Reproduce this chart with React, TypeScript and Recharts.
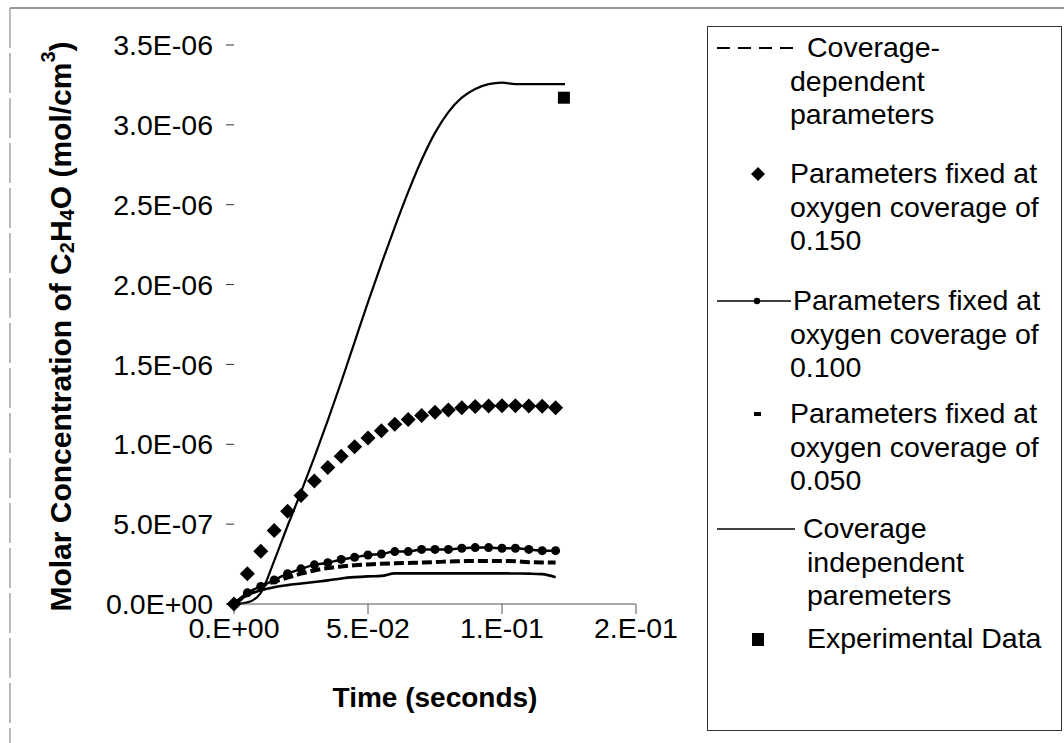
import { ComposedChart, Line, Scatter, XAxis, YAxis, Legend } from "recharts";

const FONT = "'Liberation Sans', Arial, sans-serif";

// time grid (seconds)
const TIME = [
  0, 0.005, 0.01, 0.015, 0.02, 0.025, 0.03, 0.035, 0.04, 0.045, 0.05, 0.055, 0.06,
  0.065, 0.07, 0.075, 0.08, 0.085, 0.09, 0.095, 0.1, 0.105, 0.11, 0.115, 0.12,
];

// concentrations in 1E-06 mol/cm3
const COVERAGE_DEPENDENT = [
  0, 0.06, 0.11, 0.14, 0.165, 0.19, 0.21, 0.225, 0.235, 0.243, 0.248, 0.252, 0.255,
  0.257, 0.259, 0.262, 0.266, 0.268, 0.27, 0.27, 0.27, 0.268, 0.262, 0.26, 0.26,
];
const FIXED_0150 = [
  0, 0.19, 0.33, 0.46, 0.58, 0.68, 0.77, 0.855, 0.925, 0.985, 1.04, 1.085, 1.125,
  1.155, 1.18, 1.2, 1.215, 1.228, 1.236, 1.24, 1.242, 1.242, 1.24, 1.238, 1.228,
];
const FIXED_0100 = [
  0, 0.07, 0.11, 0.15, 0.19, 0.22, 0.245, 0.258, 0.279, 0.292, 0.307, 0.313, 0.328,
  0.328, 0.342, 0.342, 0.342, 0.349, 0.353, 0.353, 0.349, 0.349, 0.342, 0.334, 0.334,
];
const FIXED_0050 = [
  0, 0.055, 0.085, 0.105, 0.118, 0.128, 0.138, 0.148, 0.16, 0.168, 0.173, 0.176, 0.192,
  0.192, 0.192, 0.192, 0.192, 0.192, 0.192, 0.192, 0.192, 0.191, 0.19, 0.187, 0.168,
];
const INDEPENDENT = [
  0, 0.01, 0.07, 0.27, 0.49, 0.7, 0.92, 1.15, 1.39, 1.64, 1.89, 2.13, 2.36,
  2.58, 2.78, 2.95, 3.08, 3.17, 3.225, 3.255, 3.265, 3.255, 3.255, 3.255, 3.255,
];
const INDEPENDENT_TAIL_T = [0.1235];
const INDEPENDENT_TAIL_C = [3.255];

const EXPERIMENTAL_T = [0.1231];
const EXPERIMENTAL_C = [3.17];

const X_TICKS = [0, 0.05, 0.1, 0.15];
const X_TICK_LABELS = ["0.E+00", "5.E-02", "1.E-01", "2.E-01"];
const Y_TICKS = [0, 0.5e-6, 1e-6, 1.5e-6, 2e-6, 2.5e-6, 3e-6, 3.5e-6];

const LEGEND_GROUPS = [
  { lines: ["Coverage-", "dependent", "parameters"], symbol: "dashed" },
  { lines: ["Parameters fixed at", "oxygen coverage of", "0.150"], symbol: "diamond" },
  { lines: ["Parameters fixed at", "oxygen coverage of", "0.100"], symbol: "linedot" },
  { lines: ["Parameters fixed at", "oxygen coverage of", "0.050"], symbol: "dash" },
  { lines: ["Coverage", "independent", "paremeters"], symbol: "line" },
  { lines: ["Experimental Data"], symbol: "square" },
];

const toSeries = (ts: number[], cs: number[]) => ts.map((t, i) => ({ t, c: cs[i] * 1e-6 }));

const covDep = toSeries(TIME, COVERAGE_DEPENDENT);
const fixed150 = toSeries(TIME, FIXED_0150);
const fixed100 = toSeries(TIME, FIXED_0100);
const fixed050 = toSeries(TIME, FIXED_0050);
const indep = [...toSeries(TIME, INDEPENDENT), ...toSeries(INDEPENDENT_TAIL_T, INDEPENDENT_TAIL_C)];
const experimental = toSeries(EXPERIMENTAL_T, EXPERIMENTAL_C);

const fmtY = (v: number) => {
  const [m, e] = v.toExponential(1).split("e");
  const n = Number(e);
  return `${m}E${n < 0 ? "-" : "+"}${String(Math.abs(n)).padStart(2, "0")}`;
};

const Diamond = (p: any) => {
  const { cx, cy } = p;
  const r = 7.5;
  return <polygon points={`${cx},${cy - r} ${cx + r},${cy} ${cx},${cy + r} ${cx - r},${cy}`} fill="#000" />;
};

const Square = (p: any) => <rect x={p.cx - 6} y={p.cy - 6} width={12} height={12} fill="#000" />;

const renderYTitle = (props: any) => {
  const { x, y, height } = props.viewBox;
  const cx = x + 60;
  const cy = y + height / 2 + 2;
  return (
    <text
      x={cx}
      y={cy}
      transform={`rotate(-90 ${cx} ${cy})`}
      textAnchor="middle"
      dominantBaseline="central"
      fontFamily={FONT}
      fontWeight="bold"
      fontSize={30}
      fill="#000"
    >
      Molar Concentration of C<tspan fontSize={20} dy={7}>2</tspan>
      <tspan dy={-7}>H</tspan>
      <tspan fontSize={20} dy={7}>4</tspan>
      <tspan dy={-7}>O (mol/cm</tspan>
      <tspan fontSize={20} dy={-12}>3</tspan>
      <tspan dy={12}>)</tspan>
    </text>
  );
};

// legend box position on the page
const LX = 707;
const LY = 26;
const GROUP_Y = [47, 173, 300, 413, 528, 638];
const FIRST_X = [807, 790, 793, 790, 803, 807];
const REST_X = [790, 790, 790, 790, 807, 807];
const LINE_H = 33.5;

function LegendBox() {
  const sym = (s: string, y: number) => {
    const sy = y - LY + 1;
    switch (s) {
      case "dashed":
        return <line x1={10} x2={88} y1={sy} y2={sy} stroke="#000" strokeWidth={2.2} strokeDasharray="13 8" />;
      case "diamond":
        return <polygon points={`51,${sy - 7} 58,${sy} 51,${sy + 7} 44,${sy}`} fill="#000" />;
      case "linedot":
        return (
          <g>
            <line x1={10} x2={84} y1={sy} y2={sy} stroke="#000" strokeWidth={1.6} />
            <circle cx={50} cy={sy} r={3.2} fill="#000" />
          </g>
        );
      case "dash":
        return <rect x={47} y={sy - 2} width={7} height={4} fill="#000" />;
      case "line":
        return <line x1={10} x2={88} y1={sy} y2={sy} stroke="#000" strokeWidth={1.6} />;
      default:
        return <rect x={45} y={sy - 6} width={12} height={13} fill="#000" />;
    }
  };
  return (
    <svg width={357} height={706} style={{ display: "block" }}>
      <rect x={0.5} y={0.5} width={354} height={704} fill="#fff" stroke="#333" strokeWidth={1} />
      {LEGEND_GROUPS.map((g, gi) => (
        <g key={gi}>
          {sym(g.symbol, GROUP_Y[gi])}
          {g.lines.map((txt, li) => (
            <text
              key={li}
              x={(li === 0 ? FIRST_X[gi] : REST_X[gi]) - LX}
              y={GROUP_Y[gi] + li * LINE_H - LY}
              dominantBaseline="central"
              fontFamily={FONT}
              fontSize={28.5}
              fill="#000"
            >
              {txt}
            </text>
          ))}
        </g>
      ))}
    </svg>
  );
}

export default function App() {
  return (
    <div style={{ position: "relative", width: 1064, height: 743, background: "#fff" }}>
      <style>{"body{margin:0}"}</style>
      <svg width={1064} height={743} style={{ position: "absolute", left: 0, top: 0 }}>
        <line x1={10} x2={1064} y1={8} y2={8} stroke="#333" strokeWidth={1.2} />
        <line x1={10} x2={10} y1={8} y2={743} stroke="#777" strokeWidth={1} strokeDasharray="40 5" />
      </svg>
      <div style={{ position: "absolute", left: 0, top: 0 }}>
        <ComposedChart width={1064} height={743} margin={{ top: 45, right: 428, bottom: 0, left: 0 }}>
          <XAxis
            type="number"
            dataKey="t"
            domain={[0, 0.15]}
            ticks={X_TICKS}
            tickFormatter={(v: number) => X_TICK_LABELS[X_TICKS.indexOf(v)] ?? ""}
            height={139}
            tickSize={10}
            tickMargin={4}
            axisLine={{ stroke: "#555", strokeWidth: 1 }}
            tickLine={{ stroke: "#555", strokeWidth: 1 }}
            tick={{ fill: "#000", fontSize: 28.5, fontFamily: FONT }}
            label={{
              value: "Time (seconds)",
              position: "insideBottom",
              offset: 36,
              fill: "#000",
              fontSize: 28,
              fontWeight: "bold",
              fontFamily: FONT,
            }}
          />
          <YAxis
            type="number"
            dataKey="c"
            domain={[0, 3.5e-6]}
            ticks={Y_TICKS}
            tickFormatter={fmtY}
            width={234}
            axisLine={false}
            tickSize={8}
            tickMargin={13}
            tickLine={{ stroke: "#333", strokeWidth: 1 }}
            tick={{ fill: "#000", fontSize: 28.5, fontFamily: FONT }}
            label={renderYTitle}
          />
          <Legend
            layout="vertical"
            align="center"
            verticalAlign="middle"
            wrapperStyle={{ position: "absolute", left: LX, top: LY, width: 357, height: 706 }}
            content={() => <LegendBox />}
          />
          <Line
            data={indep}
            dataKey="c"
            type="monotone"
            stroke="#000"
            strokeWidth={2.2}
            dot={false}
            isAnimationActive={false}
          />
          <Line
            data={fixed050}
            dataKey="c"
            type="monotone"
            stroke="#000"
            strokeWidth={2.6}
            dot={false}
            isAnimationActive={false}
          />
          <Line
            data={covDep}
            dataKey="c"
            type="monotone"
            stroke="#000"
            strokeWidth={4}
            strokeDasharray="10 4"
            dot={false}
            isAnimationActive={false}
          />
          <Line
            data={fixed100}
            dataKey="c"
            type="monotone"
            stroke="#000"
            strokeWidth={2.5}
            dot={{ r: 4.5, fill: "#000", stroke: "#000", strokeWidth: 0 }}
            isAnimationActive={false}
          />
          <Scatter data={fixed150} dataKey="c" shape={Diamond} isAnimationActive={false} />
          <Scatter data={experimental} dataKey="c" shape={Square} isAnimationActive={false} />
        </ComposedChart>
      </div>
    </div>
  );
}
